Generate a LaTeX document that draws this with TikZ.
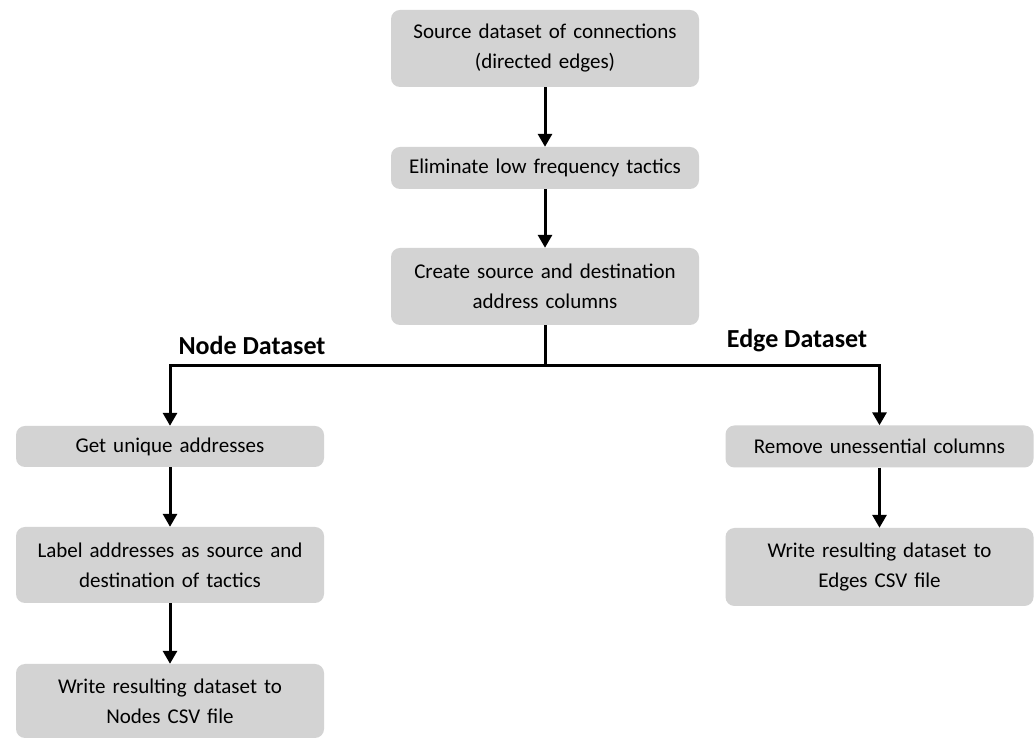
\documentclass[tikz,border=0pt]{standalone}
\usepackage{fontspec}
\setmainfont{Carlito}
\usetikzlibrary{arrows.meta, positioning}

\definecolor{boxgray}{RGB}{211,211,211}

\tikzset{
  stepbox/.style={fill=boxgray, rounded corners=9pt, align=center,
    text width=300pt, minimum width=308pt, inner sep=0pt,
    font=\fontsize{21}{30}\selectfont},
  flow/.style={line width=3pt, -{Triangle[width=14pt,length=13pt]}},
  headlabel/.style={font=\fontsize{26}{28}\selectfont\bfseries}
}

\begin{document}
\begin{tikzpicture}[x=1pt, y=1pt]
\useasboundingbox (0,0) rectangle (1035,738);

% Main column
\node[stepbox, minimum height=77pt] (source) at (545,689.5) {Source dataset of connections\\(directed edges)};
\node[stepbox, minimum height=42pt] (elim) at (545,570) {Eliminate low frequency tactics};
\node[stepbox, minimum height=77pt] (create) at (545,451.5) {Create source and destination\\address columns};

% Node branch
\node[stepbox, minimum height=41pt] (unique) at (170,291.5) {Get unique addresses};
\node[stepbox, minimum height=76pt] (label) at (170,173) {Label addresses as source and\\destination of tactics};
\node[stepbox, minimum height=74pt] (nodescsv) at (170,37) {Write resulting dataset to\\Nodes CSV file};

% Edge branch
\node[stepbox, minimum height=42pt] (remove) at (879.5,291.5) {Remove unessential columns};
\node[stepbox, minimum height=78pt] (edgescsv) at (879.5,171) {Write resulting dataset to\\Edges CSV file};

% Branch labels
\node[headlabel] (nodehead) at (252,393) {Node Dataset};
\node[headlabel] (edgehead) at (797,397) {Edge Dataset};

% Connectors
\coordinate (split) at (545,372);
\draw[flow] (source) -- (elim);
\draw[flow] (elim) -- (create);
\draw[line width=3pt] (create.south) -- (split);
\draw[flow] (split) -| (unique.north);
\draw[flow] (split) -| (remove.north);
\draw[flow] (unique) -- (label);
\draw[flow] (label) -- (nodescsv);
\draw[flow] (remove) -- (edgescsv);
\end{tikzpicture}
\end{document}
